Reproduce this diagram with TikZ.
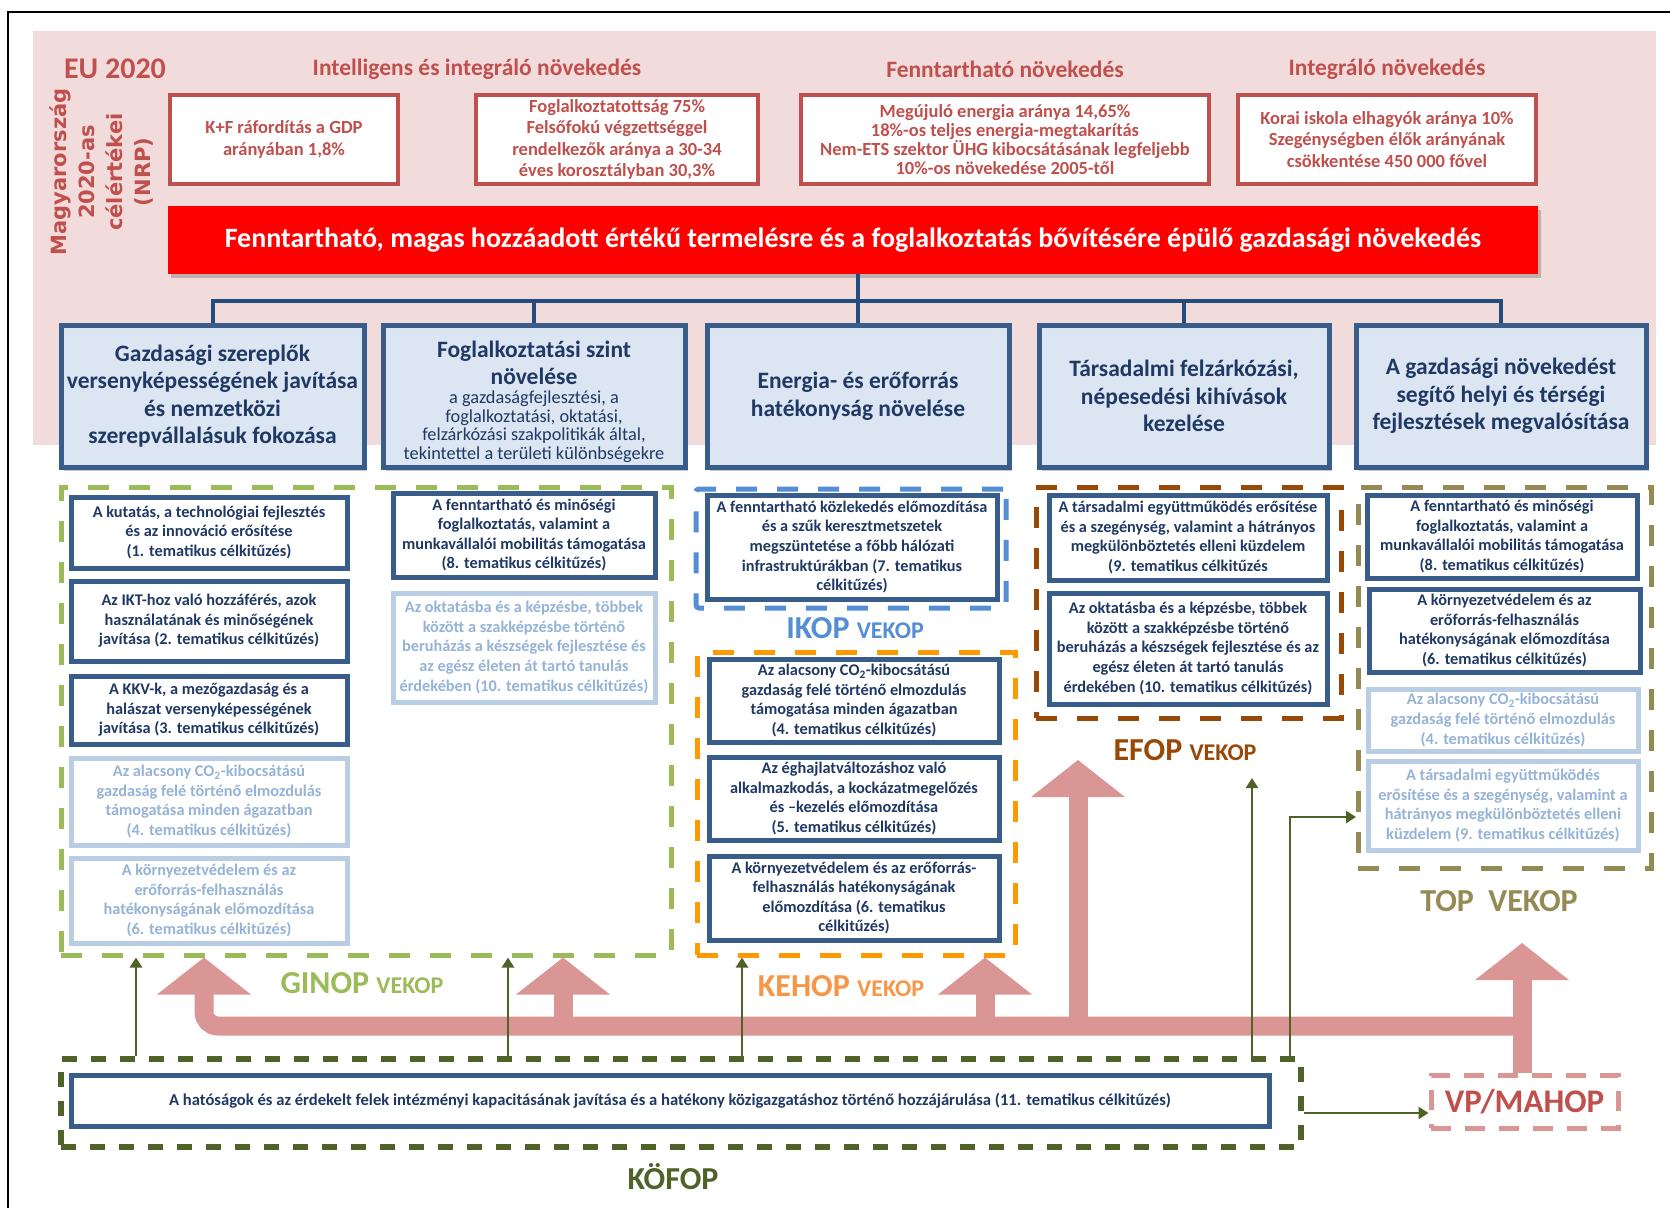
\documentclass[tikz,border=0pt]{standalone}
\usepackage{fontspec}
\setmainfont{Carlito}
\newfontfamily\vfont{DejaVu Sans}
\usetikzlibrary{arrows.meta,shadows}
\definecolor{pinkbg}{HTML}{F2DCDB}
\definecolor{redt}{HTML}{C0504D}
\definecolor{navy}{HTML}{1F3864}
\definecolor{bord}{HTML}{385D8A}
\definecolor{pfill}{HTML}{DCE6F2}
\definecolor{lbord}{HTML}{B9CDE5}
\definecolor{ltext}{HTML}{95B3D7}
\definecolor{ginopc}{HTML}{9BBB59}
\definecolor{ikopc}{HTML}{558ED5}
\definecolor{kehopc}{HTML}{FF9900}
\definecolor{kehopt}{HTML}{F79646}
\definecolor{efopc}{HTML}{984807}
\definecolor{topc}{HTML}{948A54}
\definecolor{kofopc}{HTML}{4F6228}
\definecolor{parrowc}{HTML}{DA9694}
\definecolor{treec}{HTML}{254C7E}
\newcommand\fs[2]{\fontsize{#1}{#2}\selectfont}
\newcommand\pbox[7][]{\node[#1, minimum width={#4-#2-4}, minimum height={#5-#3-4}] (#6) at ({(#2+#4)/2},{(#3+#5)/2}) {#7};}
\tikzset{
  target/.style={draw=redt, line width=4, fill=white, align=center, text=redt, font=\fs{18.5}{21.5}\bfseries, inner sep=0},
  pillar/.style={draw=bord, line width=5, fill=pfill, align=center, text=navy, font=\fs{23.5}{27.5}\bfseries, inner sep=0,
     drop shadow={shadow xshift=3pt, shadow yshift=-4pt, opacity=0.3, fill=black!70}},
  dbox/.style={draw=bord, line width=5, fill=white, align=center, text=navy, font=\fs{16.3}{19.6}\bfseries, inner sep=0},
  lbox/.style={dbox, draw=lbord, text=ltext},
  gframe/.style={draw=#1, line width=5, dash pattern=on 21pt off 20pt, inner sep=0},
  lab/.style={font=\fs{32}{36}\bfseries, inner sep=0},
  parrow/.style={draw=parrowc, line width=19, -{Triangle[width=92pt,length=37pt]}},
  oarrow/.style={draw=kofopc, line width=2.5, -{Triangle[width=12pt,length=10pt]}},
  tree/.style={draw=treec, line width=4},
  hdr/.style={font=\fs{23.5}{27}\bfseries, text=redt},
}
\begin{document}
\begin{tikzpicture}[x=1pt,y=-1pt]
\useasboundingbox (0,0) rectangle (1670,1208);
\fill[white] (0,0) rectangle (1670,1208);
\draw[line width=2] (8,1208) -- (8,12) -- (1670,12);
\fill[pinkbg] (33,31) rectangle (1656,445);

% headings
\node[font=\fs{30}{34}\bfseries, text=redt] (eu) at (115,69) {EU 2020};
\node[hdr] (h1) at (477,69) {Intelligens és integráló növekedés};
\node[hdr] (h2) at (1005,69) {Fenntartható növekedés};
\node[hdr] (h3) at (1387,69) {Integráló növekedés};
\node[rotate=90, align=center, text=redt, font=\vfont\bfseries\fs{21}{28}] (nrp) at (101,172) {Magyarország\\2020-as\\célértékei\\(NRP)};

% targets
\pbox[target]{168}{93}{400}{186}{tg1}{K+F ráfordítás a GDP\\arányában 1,8\%}
\pbox[target]{474}{93}{760}{186}{tg2}{Foglalkoztatottság 75\%\\Felsőfokú végzettséggel\\rendelkezők aránya a 30-34\\éves korosztályban 30,3\%}
\pbox[target, font=\fs{18.5}{19}\bfseries]{799}{93}{1211}{186}{tg3}{Megújuló energia aránya 14,65\%\\18\%-os teljes energia-megtakarítás\\Nem-ETS szektor ÜHG kibocsátásának legfeljebb\\10\%-os növekedése 2005-től}
\pbox[target]{1236}{93}{1538}{186}{tg4}{Korai iskola elhagyók aránya 10\%\\Szegénységben élők arányának\\csökkentése 450 000 fővel}

% banner
\node[fill=red, minimum width=1370, minimum height=68, inner sep=0, text=white, font=\fs{28}{32}\bfseries,
  drop shadow={shadow xshift=3pt, shadow yshift=-4pt, opacity=0.3, fill=black!70}] (banner) at (853,240)
  {Fenntartható, magas hozzáadott értékű termelésre és a foglalkoztatás bővítésére épülő gazdasági növekedés};

% pillars
\pbox[pillar]{59}{323}{366}{469}{p1}{Gazdasági szereplők\\versenyképességének javítása\\és nemzetközi\\szerepvállalásuk fokozása}
\pbox[pillar, text width=298, align=flush center]{381}{323}{687}{469}{p2}{\rule{0pt}{28pt}Foglalkoztatási szint\\növelése\par{\fs{18.3}{18.6}\mdseries a gazdaságfejlesztési, a\\foglalkoztatási, oktatási,\\felzárkózási szakpolitikák által,\\tekintettel  a területi  különbségekre\par}}
\pbox[pillar]{705}{323}{1011}{469}{p3}{Energia- és erőforrás\\hatékonyság növelése}
\pbox[pillar]{1037}{323}{1331}{469}{p4}{Társadalmi felzárkózási,\\népesedési kihívások\\kezelése}
\pbox[pillar]{1354}{323}{1648}{469}{p5}{A gazdasági növekedést\\segítő helyi és térségi\\fejlesztések megvalósítása}

% tree
\coordinate (tb) at (858,301);
\draw[tree] (banner.south -| tb) -- (tb);
\draw[tree] (p1.north) |- (p5.north |- tb) -- (p5.north);
\draw[tree] (p2.north) -- (p2.north |- tb);
\draw[tree] (p3.north) -- (p3.north |- tb);
\draw[tree] (p4.north) -- (p4.north |- tb);

% group frames
\pbox[gframe=ginopc]{59}{485}{673}{957}{ginop}{}
\pbox[gframe=ikopc, rounded corners=3]{694}{487}{1008}{610}{ikop}{}
\pbox[gframe=kehopc]{695}{650}{1017}{957}{kehop}{}
\pbox[gframe=efopc]{1034}{485}{1343}{720}{efop}{}
\pbox[gframe=topc]{1356}{485}{1653}{870}{topg}{}
\pbox[gframe=kofopc, line width=6, dash pattern=on 15pt off 14pt]{59}{1057}{1303}{1149}{kofop}{}
\pbox[gframe=parrowc, dash pattern=on 20pt off 14pt, text=redt, font=\fs{33}{36}\bfseries]{1429}{1073}{1620}{1130}{vp}{VP/MAHOP}

% GINOP boxes
\pbox[dbox]{69}{495}{349}{570}{g1}{A kutatás, a technológiai fejlesztés\\és az innováció erősítése\\(1. tematikus célkitűzés)}
\pbox[dbox]{69}{579}{349}{663}{g2}{Az IKT-hoz való hozzáférés, azok\\használatának és minőségének\\javítása (2. tematikus célkitűzés)}
\pbox[dbox]{69}{674}{349}{746}{g3}{A KKV-k, a mezőgazdaság és a\\halászat versenyképességének\\javítása  (3. tematikus célkitűzés)}
\pbox[lbox]{69}{756}{349}{847}{g4}{Az alacsony CO\textsubscript{2}-kibocsátású\\gazdaság felé  történő elmozdulás\\támogatása minden ágazatban\\(4. tematikus célkitűzés)}
\pbox[lbox]{69}{856}{349}{945}{g5}{A környezetvédelem és az\\erőforrás-felhasználás\\hatékonyságának előmozdítása\\(6.  tematikus célkitűzés)}
\pbox[dbox]{391}{491}{657}{579}{g6}{A fenntartható és minőségi\\foglalkoztatás, valamint a\\munkavállalói  mobilitás támogatása\\(8. tematikus célkitűzés)}
\pbox[lbox]{391}{591}{657}{704}{g7}{Az oktatásba és a képzésbe, többek\\között a szakképzésbe történő\\beruházás a készségek fejlesztése és\\az egész életen át tartó tanulás\\érdekében (10. tematikus célkitűzés)}

% IKOP
\pbox[dbox]{705}{493}{999}{601}{i1}{A fenntartható közlekedés előmozdítása\\és a szűk keresztmetszetek\\megszüntetése a főbb hálózati\\infrastruktúrákban (7. tematikus\\célkitűzés)}

% KEHOP
\pbox[dbox]{707}{657}{1001}{744}{k1}{Az alacsony CO\textsubscript{2}-kibocsátású\\gazdaság felé  történő elmozdulás\\támogatása minden ágazatban\\(4. tematikus célkitűzés)}
\pbox[dbox]{707}{755}{1001}{842}{k2}{Az éghajlatváltozáshoz való\\alkalmazkodás, a kockázatmegelőzés\\és –kezelés előmozdítása\\(5. tematikus célkitűzés)}
\pbox[dbox]{707}{854}{1001}{942}{k3}{A környezetvédelem és az erőforrás-\\felhasználás hatékonyságának\\előmozdítása (6. tematikus\\célkitűzés)}

% EFOP
\pbox[dbox]{1047}{493}{1329}{582}{e1}{A társadalmi együttműködés erősítése\\és a szegénység, valamint a hátrányos\\megkülönböztetés elleni küzdelem\\(9. tematikus célkitűzés}
\pbox[dbox]{1047}{591}{1329}{706}{e2}{Az oktatásba és a képzésbe, többek\\között a szakképzésbe történő\\beruházás a készségek fejlesztése és az\\egész életen át tartó tanulás\\érdekében (10. tematikus célkitűzés)}

% TOP
\pbox[dbox]{1365}{493}{1639}{580}{tp1}{A fenntartható és minőségi\\foglalkoztatás, valamint a\\munkavállalói  mobilitás támogatása\\(8. tematikus célkitűzés)}
\pbox[dbox]{1367}{587}{1642}{674}{tp2}{A környezetvédelem és az\\erőforrás-felhasználás\\hatékonyságának előmozdítása\\(6. tematikus célkitűzés)}
\pbox[lbox]{1366}{687}{1640}{753}{tp3}{Az alacsony CO\textsubscript{2}-kibocsátású\\gazdaság felé  történő elmozdulás\\(4. tematikus célkitűzés)}
\pbox[lbox]{1366}{759}{1640}{852}{tp4}{A társadalmi együttműködés\\erősítése és a szegénység, valamint a\\hátrányos megkülönböztetés elleni\\küzdelem (9. tematikus célkitűzés)}

% KOFOP inner
\pbox[dbox, font=\fs{16.6}{19}\bfseries]{69}{1073}{1271}{1128}{kb}{A hatóságok és az érdekelt felek intézményi kapacitásának javítása és a  hatékony közigazgatáshoz történő hozzájárulása (11. tematikus célkitűzés)}

% labels
\node[lab, text=ginopc] (ginoplab) at (362,983) {GINOP {\fs{24}{28}\selectfont VEKOP}};
\node[lab, text=ikopc] (ikoplab) at (855,628) {IKOP {\fs{24}{28}\selectfont VEKOP}};
\node[lab, text=kehopt] (kehoplab) at (841,986) {KEHOP {\fs{24}{28}\selectfont VEKOP}};
\node[lab, text=efopc] (efoplab) at (1185,750) {EFOP {\fs{24}{28}\selectfont VEKOP}};
\node[lab, text=topc] (toplab) at (1499,901) {TOP~~VEKOP};
\node[lab, text=kofopc] (kofoplab) at (673,1177) {KÖFOP};

% pink arrows
\coordinate (bandR) at (1522,1026);
\coordinate (bandL) at (204,1026);
\coordinate (s2) at (563,1026);
\coordinate (s3) at (985,1026);
\coordinate (s4) at (1078,1026);
\coordinate (s4t) at (1078,760);
\coordinate (s5t) at (1522,943);
\draw[parrow, rounded corners=14] (bandR) -- (bandL) -- (bandL |- ginop.south);
\draw[parrow] (s2) -- (s2 |- ginop.south);
\draw[parrow] (s3) -- (s3 |- kehop.south);
\draw[parrow] (s4) -- (s4t);
\draw[parrow] (vp.north -| s5t) -- (s5t);

% olive arrows
\coordinate (o1) at (136,0);
\coordinate (o2) at (508,0);
\coordinate (o3) at (742,0);
\coordinate (o4) at (1252,0);
\coordinate (o4t) at (1252,778);
\coordinate (o5) at (1290,0);
\coordinate (o5t) at (1356,817);
\coordinate (o6s) at (1304,1113);
\draw[oarrow] (o1 |- kofop.north) -- (o1 |- ginop.south);
\draw[oarrow] (o2 |- kofop.north) -- (o2 |- ginop.south);
\draw[oarrow] (o3 |- kofop.north) -- (o3 |- kehop.south);
\draw[oarrow] (o4 |- kofop.north) -- (o4t);
\draw[oarrow] (o5 |- kofop.north) |- (o5t);
\draw[oarrow] (o6s) -- (vp.west |- o6s);
\end{tikzpicture}
\end{document}
